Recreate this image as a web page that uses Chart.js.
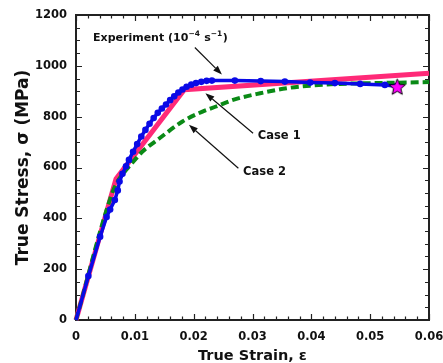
<!DOCTYPE html>
<html>
<head>
<meta charset="utf-8">
<script src="https://cdn.jsdelivr.net/npm/chart.js@4.4.0/dist/chart.umd.min.js"></script>
<style>
  html, body { margin: 0; padding: 0; background: #fff; }
  #wrap { width: 443px; height: 363px; }
</style>
</head>
<body>
<div id="wrap"><canvas id="chart"></canvas></div>
<script>
// Experiment, strain rate 1e-4 /s
const expStrain = [0, 0.0021, 0.0041, 0.0052, 0.0058, 0.0066, 0.0071, 0.0074, 0.0079, 0.0085, 0.009,
  0.0097, 0.0104, 0.0111, 0.0118, 0.0125, 0.0132, 0.0139, 0.0146, 0.0153, 0.016, 0.0167, 0.0174,
  0.0181, 0.0188, 0.0196, 0.0204, 0.0213, 0.0222, 0.0231, 0.027, 0.0314, 0.0355, 0.0398, 0.044,
  0.0483, 0.0525, 0.0545];
const expStress = [0, 173, 328, 405, 435, 472, 510, 545, 575, 605, 630,
  662, 692, 722, 748, 772, 795, 815, 832, 848, 865, 880, 895,
  907, 918, 926, 932, 937, 941, 942, 942, 940, 938, 934, 932,
  929, 925, 920];

// Case 1
const case1Strain = [0, 0.0068, 0.0184, 0.06];
const case1Stress = [0, 555, 906, 971];

// Case 2
const case2Strain = [0, 0.006, 0.007, 0.0085, 0.01, 0.0113, 0.0142, 0.0181, 0.0215, 0.0238, 0.0267,
  0.0313, 0.0358, 0.0398, 0.0449, 0.0505, 0.06];
const case2Stress = [0, 490, 542, 590, 630, 663, 715, 781, 820, 840, 866,
  892, 912, 922, 929, 932, 936];

// failure point (star)
const failStrain = [0.0546];
const failStress = [918];

const xTickValues = [0, 0.01, 0.02, 0.03, 0.04, 0.05, 0.06];
const yTickValues = [0, 200, 400, 600, 800, 1000, 1200];

const FONT = "'DejaVu Sans', 'Liberation Sans', Arial, sans-serif";
const INK = '#222';

function toPoints(xs, ys) {
  return xs.map((x, i) => ({ x: x, y: ys[i] }));
}

// 5-point star used as the point style
function makeStar(r) {
  const c = document.createElement('canvas');
  const size = Math.ceil(r * 2 + 4);
  c.width = size;
  c.height = size;
  const g = c.getContext('2d');
  const cx = size / 2, cy = size / 2 + 0.8;
  g.beginPath();
  for (let i = 0; i < 10; i++) {
    const rad = i % 2 === 0 ? r : r * 0.45;
    const a = -Math.PI / 2 + i * Math.PI / 5;
    const px = cx + rad * Math.cos(a);
    const py = cy + rad * Math.sin(a);
    if (i === 0) g.moveTo(px, py); else g.lineTo(px, py);
  }
  g.closePath();
  g.fillStyle = '#ff00ff';
  g.fill();
  g.lineWidth = 1;
  g.strokeStyle = '#000';
  g.stroke();
  return c;
}

// Frame with inward major/minor ticks on all four sides
const framePlugin = {
  id: 'frame',
  beforeDatasetsDraw(chart) {
    const { ctx, chartArea: a, scales: { x, y } } = chart;
    ctx.save();
    ctx.strokeStyle = INK;
    ctx.lineWidth = 1.2;
    ctx.beginPath();
    for (let v = 0; v <= 0.06 + 1e-9; v += 0.002) {
      const px = Math.round(x.getPixelForValue(v)) + 0.5;
      const major = Math.abs(v / 0.01 - Math.round(v / 0.01)) < 1e-6;
      const len = major ? 6 : 3.5;
      ctx.moveTo(px, a.bottom);
      ctx.lineTo(px, a.bottom - len);
      ctx.moveTo(px, a.top);
      ctx.lineTo(px, a.top + len);
    }
    for (let v = 0; v <= 1200; v += 50) {
      const py = Math.round(y.getPixelForValue(v)) + 0.5;
      const major = v % 200 === 0;
      const len = major ? 6 : 4;
      ctx.moveTo(a.left, py);
      ctx.lineTo(a.left + len, py);
      ctx.moveTo(a.right, py);
      ctx.lineTo(a.right - len, py);
    }
    ctx.stroke();
    ctx.lineWidth = 2;
    ctx.strokeRect(a.left, a.top, a.right - a.left, a.bottom - a.top);
    ctx.restore();
  }
};

function arrow(ctx, x0, y0, x1, y1) {
  const ang = Math.atan2(y1 - y0, x1 - x0);
  const hl = 9, hw = 3.2;
  const bx = x1 - hl * Math.cos(ang), by = y1 - hl * Math.sin(ang);
  ctx.beginPath();
  ctx.moveTo(x0, y0);
  ctx.lineTo(bx, by);
  ctx.stroke();
  ctx.beginPath();
  ctx.moveTo(x1, y1);
  ctx.lineTo(bx + hw * Math.sin(ang), by - hw * Math.cos(ang));
  ctx.lineTo(bx - hw * Math.sin(ang), by + hw * Math.cos(ang));
  ctx.closePath();
  ctx.fill();
}

// Labels and arrows, anchored in data coordinates
const notesPlugin = {
  id: 'notes',
  afterDatasetsDraw(chart) {
    const { ctx, scales: { x, y } } = chart;
    const P = (sx, sy) => [x.getPixelForValue(sx), y.getPixelForValue(sy)];
    ctx.save();
    ctx.fillStyle = '#111';
    ctx.strokeStyle = '#111';
    ctx.lineWidth = 1.2;

    let [ax, ay] = P(0.0202, 1072), [bx, by] = P(0.0248, 966);
    arrow(ctx, ax, ay, bx, by);
    [ax, ay] = P(0.0301, 735); [bx, by] = P(0.0220, 892);
    arrow(ctx, ax, ay, bx, by);
    [ax, ay] = P(0.0276, 597); [bx, by] = P(0.0192, 768);
    arrow(ctx, ax, ay, bx, by);

    ctx.textBaseline = 'middle';
    ctx.textAlign = 'left';
    const big = 'bold 11px ' + FONT;
    const sup = 'bold 7.5px ' + FONT;
    let [tx, ty] = P(0.0029, 1110);
    const parts = [['Experiment (10', big, 0], ['\u22124', sup, -4], [' s', big, 0], ['\u22121', sup, -4], [')', big, 0]];
    parts.forEach(([t, f, dy]) => {
      ctx.font = f;
      ctx.fillText(t, tx, ty + dy);
      tx += ctx.measureText(t).width + (dy ? 0.5 : 0);
    });
    ctx.font = 'bold 11.5px ' + FONT;
    [tx, ty] = P(0.0309, 722);
    ctx.fillText('Case 1', tx, ty);
    [tx, ty] = P(0.0284, 584);
    ctx.fillText('Case 2', tx, ty);
    ctx.restore();
  }
};

const chart = new Chart(document.getElementById('chart'), {
  type: 'scatter',
  data: {
    datasets: [
      {
        label: 'Failure',
        data: toPoints(failStrain, failStress),
        pointStyle: makeStar(8.5),
        pointRadius: 9,
        showLine: false
      },
      {
        label: 'Experiment (1e-4 /s)',
        data: toPoints(expStrain, expStress),
        showLine: true,
        borderColor: '#0a0ae6',
        borderWidth: 3.5,
        pointRadius: (c) => (c.dataIndex === 0 ? 0 : 3.3),
        pointBackgroundColor: '#0a0ae6',
        pointBorderWidth: 0,
        tension: 0
      },
      {
        label: 'Case 2',
        data: toPoints(case2Strain, case2Stress),
        showLine: true,
        borderColor: '#0a8a16',
        borderWidth: 4,
        borderDash: [8, 4],
        pointRadius: 0,
        cubicInterpolationMode: 'monotone'
      },
      {
        label: 'Case 1',
        data: toPoints(case1Strain, case1Stress),
        showLine: true,
        borderColor: '#ff2a78',
        borderWidth: 5,
        pointRadius: 0,
        tension: 0
      }
    ]
  },
  options: {
    responsive: true,
    maintainAspectRatio: false,
    animation: false,
    clip: false,
    layout: { padding: { left: 0, top: 15, right: 14, bottom: 0 } },
    plugins: {
      legend: { display: false },
      tooltip: { enabled: false }
    },
    scales: {
      x: {
        type: 'linear',
        min: 0,
        max: 0.06,
        afterFit: (s) => { s.height = 43; s.paddingLeft = 0; s.paddingRight = 0; },
        afterBuildTicks: (s) => { s.ticks = xTickValues.map(v => ({ value: v })); },
        grid: { display: false, drawTicks: false },
        border: { display: false },
        ticks: {
          padding: 10,
          color: '#111',
          font: { family: FONT, size: 11.5, weight: 'bold' },
          callback: (v) => (v === 0 ? '0' : v.toFixed(2))
        },
        title: {
          display: true,
          text: 'True Strain, \u03b5',
          color: '#111',
          font: { family: FONT, size: 14.5, weight: 'bold', lineHeight: 1 },
          padding: { top: 0, bottom: 0 }
        }
      },
      y: {
        type: 'linear',
        min: 0,
        max: 1200,
        afterFit: (s) => { s.width = 76; s.paddingTop = 0; s.paddingBottom = 0; },
        afterBuildTicks: (s) => { s.ticks = yTickValues.map(v => ({ value: v })); },
        grid: { display: false, drawTicks: false },
        border: { display: false },
        ticks: {
          padding: 9,
          color: '#111',
          font: { family: FONT, size: 11.5, weight: 'bold' },
          callback: (v) => String(v)
        },
        title: {
          display: true,
          text: 'True Stress, \u03c3 (MPa)',
          color: '#111',
          font: { family: FONT, size: 17, weight: 'bold', lineHeight: 1 },
          padding: { top: 15, bottom: 0 }
        }
      }
    }
  },
  plugins: [framePlugin, notesPlugin]
});
</script>
</body>
</html>
